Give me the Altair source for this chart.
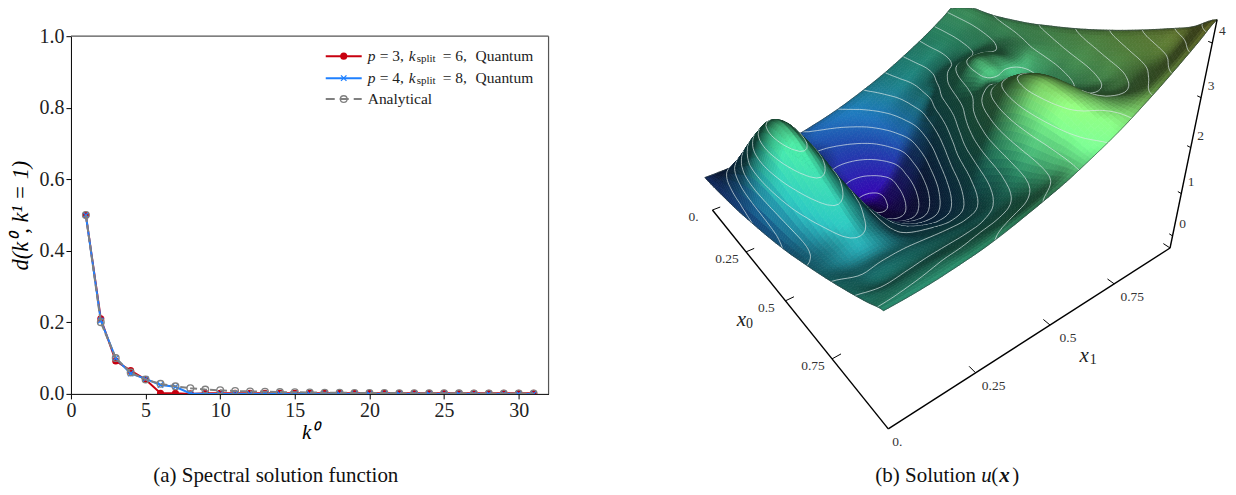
import numpy as np
import altair as alt
import pandas as pd

# ---------- left panel values ----------
K = list(range(1, 32))
RED = [.5, .21, .092, .065, .04, .002, .002, 0, .002, .002, .002, .002, .002, .002, .002, .002, .002,
       .002, .002, .002, .002, .002, .002, .002, .002, .002, .002, .002, .002, .002, .002]
BLUE = [.5, .205, .1, .057, .042, .025, .02, .001, 0, 0, 0, 0, 0, 0, 0, 0, 0, 0, 0, 0, 0, 0, 0, 0, 0, 0, 0, 0, 0, 0, 0]
ANALYTIC = [.5, .2, .1, .06, .04, .028, .021, .016, .012, .01, .008, .007, .006, .005, .0045, .004, .0035,
            .003, .0028, .0025, .0023, .0021, .002, .0018, .0016, .0015, .0014, .0013, .0012, .0012, .0011]
X_TICKS = [0, 5, 10, 15, 20, 25, 30]
Y_TICKS = [0, .2, .4, .6, .8, 1.0]

# ---------- right panel: height u(x0, x1) read on a 17 x 17 lattice ----------
U_ROWS = [
    [.50, .51, .53, .58, .64, .71, .81, .92, 1.05, 1.20, 1.36, 1.54, 1.74, 1.95, 2.18, 2.43, 2.70],
    [.52, .80, 1.02, .95, .72, .56, .56, .66, .83, 1.04, 1.27, 1.50, 1.72, 1.95, 2.18, 2.43, 2.71],
    [.56, 1.08, 1.50, 1.30, .77, .44, .32, .36, .54, .84, 1.15, 1.44, 1.70, 1.94, 2.19, 2.44, 2.72],
    [.60, 1.35, 1.90, 1.60, .80, .27, .02, 0, .23, .64, 1.08, 1.46, 1.77, 2.00, 2.23, 2.48, 2.75],
    [.65, 1.60, 2.25, 1.85, .82, .12, -.25, -.30, -.03, .48, 1.05, 1.54, 2.00, 2.15, 2.30, 2.54, 2.81],
    [.72, 1.72, 2.42, 2.00, .89, .17, -.22, -.28, .02, .57, 1.19, 1.85, 2.35, 2.45, 2.45, 2.61, 2.88],
    [.79, 1.72, 2.40, 2.00, .93, .25, -.11, -.15, .16, .75, 1.43, 2.10, 2.60, 2.62, 2.55, 2.70, 2.96],
    [.87, 1.65, 2.25, 1.92, .94, .37, .06, .03, .38, 1.04, 1.73, 2.30, 2.60, 2.55, 2.58, 2.79, 3.06],
    [.96, 1.55, 2.05, 1.78, 1.10, .52, .27, .28, .67, 1.39, 2.10, 2.46, 2.45, 2.38, 2.55, 2.89, 3.16],
    [1.06, 1.45, 1.85, 1.62, 1.12, .70, .53, .57, 1.00, 1.80, 2.52, 2.72, 2.50, 2.40, 2.60, 3.00, 3.27],
    [1.18, 1.38, 1.65, 1.48, 1.15, .89, .78, .86, 1.32, 2.18, 2.93, 3.01, 2.65, 2.50, 2.72, 3.12, 3.39],
    [1.30, 1.38, 1.50, 1.42, 1.22, 1.11, 1.04, 1.15, 1.63, 2.50, 3.21, 3.23, 2.82, 2.66, 2.85, 3.24, 3.52],
    [1.43, 1.39, 1.41, 1.42, 1.38, 1.33, 1.31, 1.43, 1.88, 2.70, 3.36, 3.35, 2.96, 2.82, 3.00, 3.38, 3.66],
    [1.57, 1.52, 1.55, 1.56, 1.56, 1.56, 1.58, 1.70, 2.10, 2.79, 3.35, 3.37, 3.08, 3.00, 3.15, 3.53, 3.81],
    [1.72, 1.66, 1.69, 1.72, 1.74, 1.76, 1.81, 1.95, 2.27, 2.81, 3.27, 3.33, 3.22, 3.15, 3.35, 3.69, 3.97],
    [1.88, 1.90, 1.93, 1.97, 2.00, 2.06, 2.13, 2.24, 2.45, 2.82, 3.12, 3.25, 3.31, 3.40, 3.61, 3.86, 4.14],
    [2.05, 2.06, 2.09, 2.14, 2.20, 2.29, 2.40, 2.52, 2.65, 2.81, 2.98, 3.17, 3.39, 3.62, 3.87, 4.13, 4.40],
]
LEVELS = [-.25 + .25 * i for i in range(20)]
COLOR_U = [-.3, .5, 1.0, 1.6, 2.2, 3.0, 3.6, 4.4]
COLOR_R = [50, 30, 30, 45, 70, 125, 160, 200]
COLOR_G = [5, 70, 125, 195, 225, 250, 235, 205]
COLOR_B = [170, 165, 185, 185, 165, 140, 105, 75]

SERIF = "Liberation Serif"
OX, OY = 600, 8   # page position of the right panel's origin
ZBASE = -.3
N = 90


def project(x0, x1, z):
    a, b, t = 1 - x0, x1, z - ZBASE
    X = 888 + 115.9 * a + 688 * b - 49.8 * t
    Y = 429 - 132.9 * a - 95 * b - 66.5 * t
    W = 1 + .41 * a + .347 * b - .052 * t
    return X / W - OX, Y / W - OY, W


def surf_xy(x0, x1, z):
    sx, sy, _ = project(x0, x1, z)
    sx = sx + 5 * x0 * (1 - x1) - 6 * (1 - x0) * x1
    return round(float(sx), 1), round(float(max(sy, 0)), 1)


def catmull(n_out, n_in):
    M = np.zeros((n_out, n_in))
    for r, t in enumerate(np.linspace(0, n_in - 1, n_out)):
        i = min(int(t), n_in - 2)
        f = t - i
        w = [(-f ** 3 + 2 * f ** 2 - f) / 2, (3 * f ** 3 - 5 * f ** 2 + 2) / 2,
             (-3 * f ** 3 + 4 * f ** 2 + f) / 2, (f ** 3 - f ** 2) / 2]
        for k, wk in zip(range(i - 1, i + 3), w):
            M[r, min(max(k, 0), n_in - 1)] += wk
    return M


U = np.array(U_ROWS)
M = catmull(N + 1, U.shape[0])
F = M @ U @ M.T
g = np.linspace(0, 1, N + 1)
D0, D1 = np.gradient(F, g, g)


def feat(geom, f, s, w, key):
    return (key, {"type": "Feature", "geometry": geom, "properties": {"f": f, "s": s, "w": w}})


items = []
CONT = "#dbe6e6"
EDGE = "#2a3a3a"
for i in range(N):
    for j in range(N):
        corners = [(i, j), (i + 1, j), (i + 1, j + 1), (i, j + 1)]
        pts = [surf_xy(g[p], g[q], F[p, q]) for p, q in corners]
        xc, yc = g[i] + .5 / N, g[j] + .5 / N
        uc = float(np.mean([F[p, q] for p, q in corners]))
        d0 = np.mean([D0[p, q] for p, q in corners]) - (.3 + 2.5 * xc)
        d1 = np.mean([D1[p, q] for p, q in corners]) - 4.4 * yc
        s = -d0 + .12 * max(d1, 0) + .6 * min(d1, 0)
        light = min(max(.52 + .12 * s, .3), 1.05)
        rgb = [int(min(255, light * np.interp(uc, COLOR_U, c))) for c in (COLOR_R, COLOR_G, COLOR_B)]
        col = "#%02x%02x%02x" % tuple(rgb)
        depth = float(project(xc, yc, uc)[2])
        items.append(feat({"type": "Polygon", "coordinates": [[list(p) for p in pts + pts[:1]]]}, col, col, .7, depth))
        vals = [F[p, q] for p, q in corners]
        lo, hi = min(vals), max(vals)
        segs = []
        for lev in LEVELS:
            if lo < lev < hi:
                cross = []
                for c in range(4):
                    p1, q1 = corners[c]
                    p2, q2 = corners[(c + 1) % 4]
                    v1, v2 = F[p1, q1], F[p2, q2]
                    if (v1 - lev) * (v2 - lev) < 0:
                        r = (lev - v1) / (v2 - v1)
                        cross.append(list(surf_xy(g[p1] + r * (g[p2] - g[p1]), g[q1] + r * (g[q2] - g[q1]), lev)))
                if len(cross) >= 2:
                    segs.append(cross[:2])
                if len(cross) == 4:
                    segs.append(cross[2:])
        if segs:
            items.append(feat({"type": "MultiLineString", "coordinates": segs}, "none", CONT, .7, depth - .011))
        rim = []
        if i == 0:
            rim.append([pts[0], pts[3]])
        if i == N - 1:
            rim.append([pts[1], pts[2]])
        if j == 0:
            rim.append([pts[0], pts[1]])
        if j == N - 1:
            rim.append([pts[2], pts[3]])
        if rim:
            items.append(feat({"type": "MultiLineString", "coordinates": [[list(a), list(b)] for a, b in rim]},
                              "none", EDGE, .6, depth - .011))

items.sort(key=lambda it: -it[0])
surface_features = [it[1] for it in items]


def base_xy(x0, x1, z):
    sx, sy, _ = project(x0, x1, z)
    return [round(float(sx), 1), round(float(sy), 1)]


AX_TICKS = [0, .25, .5, .75, 1]
Z_TICKS = [0, 1, 2, 3, 4]
axis_features = []


def line(a, b, w=1.4):
    axis_features.append({"type": "Feature", "geometry": {"type": "LineString", "coordinates": [a, b]},
                          "properties": {"f": "none", "s": "#000000", "w": w}})


line(base_xy(0, 0, ZBASE), base_xy(1, 0, ZBASE))
line(base_xy(1, 0, ZBASE), base_xy(1, 1, ZBASE))
line(base_xy(1, 1, ZBASE), base_xy(1, 1, 4.4))
for v in AX_TICKS[:-1]:
    line(base_xy(v, 0, ZBASE), base_xy(v, .025, ZBASE), 1)
for v in AX_TICKS[1:]:
    line(base_xy(1, v, ZBASE), base_xy(1 - .025, v, ZBASE), 1)
for v in Z_TICKS:
    line(base_xy(1, 1, v), base_xy(1 - .012, 1, v), 1)


def tick_rows(labels, pts, dx, dy):
    rows = []
    for lab, p in zip(labels, pts):
        rows.append({"t": lab, "lon": p[0] + dx, "lat": p[1] + dy})
    return rows


x0_rows = tick_rows(["0.", "0.25", "0.5", "0.75"], [base_xy(v, 0, ZBASE) for v in AX_TICKS[:4]], -19, 7)
x1_rows = tick_rows(["0.", "0.25", "0.5", "0.75"], [base_xy(1, v, ZBASE) for v in AX_TICKS[:4]], 18, 13)
x1_rows[0]["lon"] -= 9
z_rows = tick_rows(["0", "1", "2", "3", "4"], [base_xy(1, 1, v) for v in Z_TICKS], 10, -12)


def rtext(rows, **props):
    return alt.Chart(pd.DataFrame(rows)).mark_text(font=SERIF, baseline="middle", **props).encode(
        longitude="lon:Q", latitude="lat:Q", text="t:N")


def page(t, x, y):
    return {"t": t, "lon": x - OX, "lat": y - OY}


geo = alt.Chart(alt.Data(values=surface_features)).mark_geoshape().encode(
    fill=alt.Fill("properties.f:N", scale=None),
    stroke=alt.Stroke("properties.s:N", scale=None),
    strokeWidth=alt.StrokeWidth("properties.w:Q", scale=None),
)
geo_axes = alt.Chart(alt.Data(values=axis_features)).mark_geoshape(fill="none").encode(
    stroke=alt.Stroke("properties.s:N", scale=None),
    strokeWidth=alt.StrokeWidth("properties.w:Q", scale=None),
)
right_layers = [
    geo, geo_axes,
    rtext(x0_rows + x1_rows + z_rows, fontSize=13.5, color="#333333", align="center"),
    rtext([page("x", 741, 320), page("x", 1084, 356)], fontSize=21, fontStyle="italic", color="#222222", align="center"),
    rtext([page("0", 749, 324), page("1", 1093, 360)], fontSize=14, color="#222222", align="center"),
    rtext([page("(b) Solution", 875, 476), page("(", 991, 476), page(")", 1012, 476)], fontSize=21, color="#111111", align="left"),
    rtext([page("u", 981, 476)], fontSize=21, fontStyle="italic", color="#111111", align="left"),
    rtext([page("x", 999, 476)], fontSize=21, fontStyle="italic", fontWeight="bold", color="#111111", align="left"),
]
right = alt.layer(*right_layers).project(type="identity", scale=1, translate=[0, 0]).properties(width=628, height=479)

# ---------- left chart ----------
PX0, PY0 = 70, 8
PLOT_W, PLOT_TOP, PLOT_BOTTOM = 478, 28, 386
df = pd.DataFrame({"k": K, "red": RED, "blue": BLUE, "ana": ANALYTIC})
REDC, BLUEC, GRAYC = "#c8000f", "#1f80ff", "#808080"
X_MARK = "M-1,-1L1,1M-1,1L1,-1"
x_enc = alt.X("k:Q", scale=alt.Scale(domain=[0, 32], nice=False),
              axis=alt.Axis(values=X_TICKS, title="k⁰", titleFontStyle="italic", titleFontWeight="normal",
                            titleFontSize=21, titleFont=SERIF, titlePadding=1, labelFont=SERIF, labelFontSize=20,
                            labelColor="#222222", tickColor="#000000", domainColor="#000000", tickSize=5,
                            labelPadding=2, grid=False, labelFlush=False, labelOverlap=False))
y_axis = alt.Axis(values=Y_TICKS, format=".1f", title="d(k⁰, k¹ = 1)", titleFontStyle="italic", titleFontWeight="normal",
                  titleFontSize=22.5, titleFont=SERIF, titlePadding=6, labelFont=SERIF, labelFontSize=20,
                  labelColor="#222222", tickColor="#000000", domainColor="#000000", tickSize=5, labelPadding=2,
                  grid=False, labelFlush=False)


def yenc(field):
    return alt.Y(field + ":Q", scale=alt.Scale(domain=[0, 1], nice=False, range=[PLOT_BOTTOM, PLOT_TOP]), axis=y_axis)


base = alt.Chart(df)
one = alt.Data(values=[{"a": 1}])
spines = [
    alt.Chart(one).mark_rule(color="#555555", strokeWidth=1.2).encode(
        x=alt.value(0), x2=alt.value(PLOT_W), y=alt.value(PLOT_TOP)),
    alt.Chart(one).mark_rule(color="#555555", strokeWidth=1.2).encode(
        x=alt.value(PLOT_W), y=alt.value(PLOT_TOP), y2=alt.value(PLOT_BOTTOM)),
]
left_layers = [
    base.mark_line(color=REDC, strokeWidth=2, clip=True).encode(x=x_enc, y=yenc("red")),
    base.mark_point(color=REDC, filled=True, opacity=1, size=50, clip=True).encode(x=x_enc, y=yenc("red")),
    base.mark_line(color=BLUEC, strokeWidth=2, clip=True).encode(x=x_enc, y=yenc("blue")),
    base.mark_point(shape=X_MARK, color=BLUEC, filled=False, opacity=1, size=30, strokeWidth=1.3, clip=True).encode(x=x_enc, y=yenc("blue")),
    base.mark_line(color=GRAYC, strokeWidth=2, strokeDash=[7, 3], clip=True).encode(x=x_enc, y=yenc("ana")),
    base.mark_point(color=GRAYC, filled=False, opacity=1, size=45, strokeWidth=1.3, clip=True).encode(x=x_enc, y=yenc("ana")),
]


def ltext(t, x, y, **props):
    props.setdefault("fontSize", 15.5)
    props.setdefault("color", "#222222")
    return alt.Chart(one).mark_text(font=SERIF, align="left", baseline="middle", text=t, **props).encode(
        x=alt.value(x - PX0), y=alt.value(y - PY0))


def legend_line(y, color, dash=None):
    kw = {"strokeDash": dash} if dash else {}
    return alt.Chart(one).mark_rule(color=color, strokeWidth=2, **kw).encode(
        x=alt.value(325 - PX0), x2=alt.value(361 - PX0), y=alt.value(y - PY0))


def legend_mark(y, **props):
    return alt.Chart(one).mark_point(opacity=1, **props).encode(x=alt.value(343 - PX0), y=alt.value(y - PY0))


legend = [legend_line(56, REDC), legend_mark(56, color=REDC, filled=True, size=50),
          legend_line(78, BLUEC), legend_mark(78, shape=X_MARK, color=BLUEC, filled=False, size=30, strokeWidth=1.3),
          legend_line(99, GRAYC, [9, 5]), legend_mark(99, color=GRAYC, filled=False, size=45, strokeWidth=1.3)]
for y, n1, n2 in [(56, "3", "6"), (78, "4", "8")]:
    legend += [ltext("p", 367, y, fontStyle="italic"), ltext("= " + n1 + ",", 379, y),
               ltext("k", 408, y, fontStyle="italic"), ltext("split", 416, y + 3, fontSize=11),
               ltext("= " + n2 + ",", 442, y), ltext("Quantum", 475, y)]
legend.append(ltext("Analytical", 367, 99))
caption = alt.Chart(one).mark_text(font=SERIF, fontSize=21, color="#111111", align="center", baseline="middle",
                                   text="(a) Spectral solution function").encode(
    x=alt.value(275 - PX0), y=alt.value(476 - PY0))

left = alt.layer(*left_layers, *spines, *legend, caption).properties(width=PLOT_W, height=PLOT_BOTTOM)

chart = alt.hconcat(left, right, spacing=OX - PX0 - PLOT_W, bounds="flush").properties(
    padding={"left": 2, "top": 0, "right": 0, "bottom": 0}).configure_view(stroke=None)
chart.save("out.html", embed_options={"renderer": "svg", "actions": False})
